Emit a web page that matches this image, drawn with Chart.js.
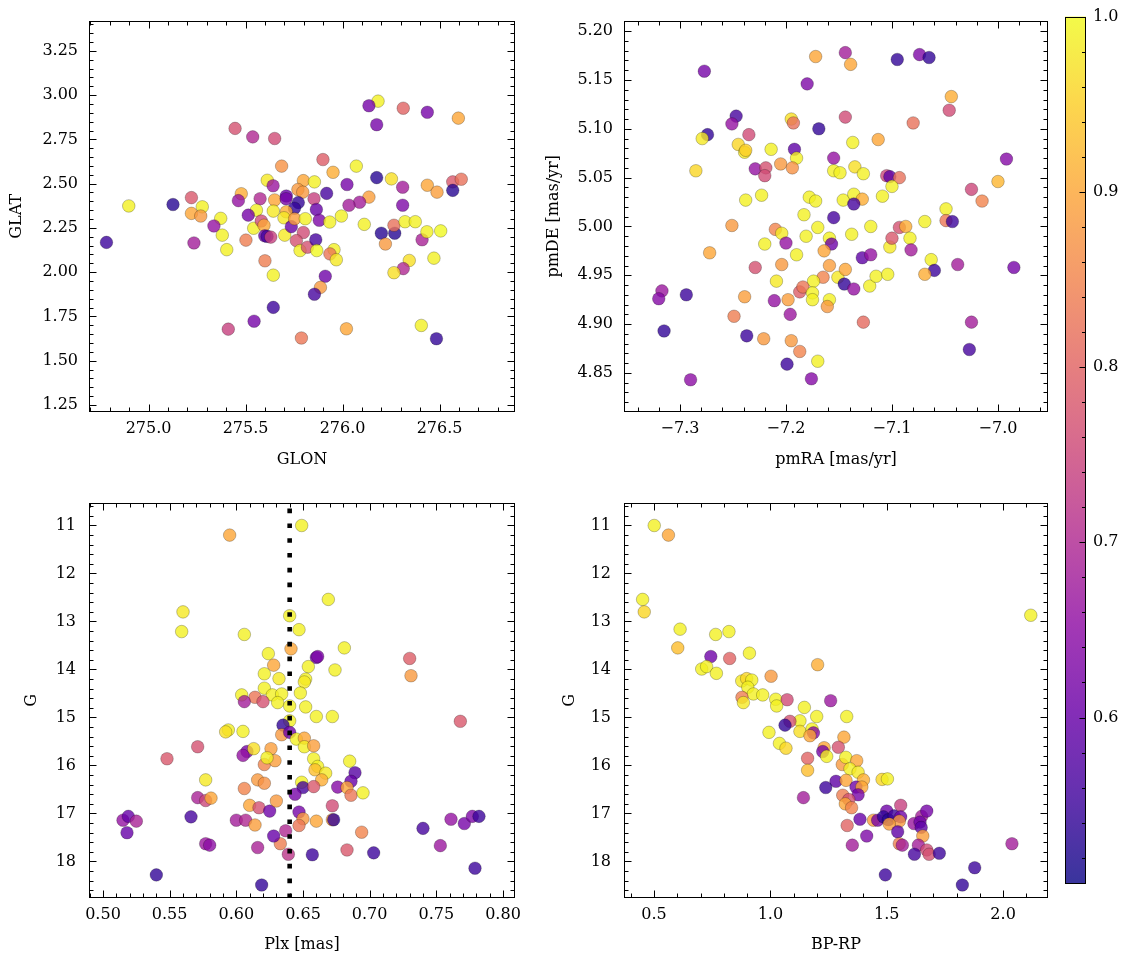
<!DOCTYPE html>
<html><head><meta charset="utf-8">
<script src="https://cdn.jsdelivr.net/npm/chart.js@4.4.1/dist/chart.umd.min.js"></script>
<style>
html,body{margin:0;padding:0;background:#fff;}
#wrap{position:relative;width:1133px;height:965px;overflow:hidden;background:#fff;}
.box{position:absolute;}
canvas{display:block;}
</style></head><body>
<div id="wrap">
<div class="box" style="left:0;top:0"><canvas id="c1" width="530" height="480"></canvas></div>
<div class="box" style="left:530px;top:0"><canvas id="c2" width="535" height="480"></canvas></div>
<div class="box" style="left:0;top:480px"><canvas id="c3" width="530" height="485"></canvas></div>
<div class="box" style="left:530px;top:480px"><canvas id="c4" width="535" height="485"></canvas></div>
<div class="box" style="left:1055px;top:0"><canvas id="c5" width="78" height="965"></canvas></div>
</div>
<script>
// ---------------- data ----------------
const CMIN = 0.505, CMAX = 1.0;
const colorbarTicks = [0.6, 0.7, 0.8, 0.9, 1.0];

// Panel A: GLON vs GLAT
const glon = [276.183,276.136,276.313,276.437,276.176,276.597,275.446,275.537,275.650,275.686,275.899,275.951,276.071,276.176,276.252,276.310,276.437,276.487,276.568,276.612,276.568,275.612,275.642,275.798,275.855,275.770,275.795,275.710,275.918,276.023,276.136,276.088,276.033,276.310,275.221,275.126,274.898,275.277,275.221,275.269,275.478,275.463,275.575,275.650,275.772,275.752,275.853,275.865,275.709,275.643,275.556,275.514,275.372,275.994,275.710,
274.783,275.234,275.337,275.380,275.403,275.502,275.542,275.581,275.595,275.599,275.611,275.630,275.600,275.643,275.643,275.544,275.411,275.702,275.698,275.736,275.753,275.798,275.762,275.781,275.819,275.862,275.867,275.880,275.808,275.934,275.956,275.935,275.968,275.911,275.886,275.855,275.788,276.020,276.112,276.200,276.269,276.265,276.221,276.322,276.375,276.410,276.435,276.506,276.471,276.344,276.313,276.265,276.406,276.484];
const glat = [2.966,2.940,2.926,2.903,2.833,2.870,2.812,2.764,2.755,2.599,2.636,2.564,2.599,2.534,2.527,2.480,2.491,2.452,2.510,2.525,2.462,2.519,2.488,2.517,2.510,2.467,2.452,2.430,2.445,2.495,2.424,2.395,2.378,2.378,2.421,2.382,2.374,2.369,2.332,2.317,2.443,2.404,2.415,2.408,2.393,2.361,2.415,2.354,2.415,2.345,2.350,2.322,2.304,2.317,2.341,
2.168,2.165,2.261,2.209,2.127,2.181,2.248,2.289,2.265,2.205,2.202,2.198,2.064,1.983,1.801,1.723,1.678,2.209,2.307,2.257,2.302,2.224,2.178,2.122,2.141,2.183,2.122,2.293,2.302,2.283,2.127,2.103,2.070,1.977,1.914,1.875,1.628,1.680,2.270,2.220,2.220,2.265,2.159,2.285,2.285,2.183,2.228,2.233,2.079,2.066,2.020,1.997,1.699,1.624];
const probA = [.99,.62,.80,.62,.62,.90,.77,.70,.76,.87,.79,.91,.99,.53,.97,.68,.90,.89,.78,.82,.53,.98,.67,.90,.99,.88,.88,.60,.56,.62,.89,.68,.68,.63,.78,.53,.99,.99,.90,.88,.91,.66,.70,.90,.54,.54,.74,.60,.62,.98,.99,.62,.99,.99,.91,
.55,.68,.66,.99,.99,.84,.99,.76,.90,.60,.56,.74,.84,.99,.55,.62,.74,.98,.98,.60,.89,.76,.77,.99,.77,.56,1.0,.63,.99,.99,.99,.83,.98,.61,.88,.56,.83,.90,.99,.53,.53,.82,.88,.99,.99,.69,.99,1.0,.99,.97,.70,.97,.99,.54];
const glonTicks = [275.0, 275.5, 276.0, 276.5];
const glatTicks = [1.25, 1.50, 1.75, 2.00, 2.25, 2.50, 2.75, 3.00, 3.25];

// Panel B: pmRA vs pmDE
const pmra = [-7.277,-7.172,-7.144,-7.139,-7.095,-7.074,-7.065,-7.180,-7.044,-7.046,-7.080,-7.247,-7.251,-7.274,-7.279,-7.235,-7.195,-7.193,-7.169,-7.144,-7.245,-7.239,-7.238,-7.214,-7.192,-7.190,-7.137,-7.113,-7.285,-7.229,-7.219,-7.220,-7.205,-7.194,-7.155,-7.155,-7.149,-7.135,-7.127,-7.105,-7.102,-7.093,-6.992,-7.000,-7.025,-7.015,-7.100,-7.109,-7.238,-7.223,-7.178,-7.172,-7.146,-7.136,-7.128,-7.136,-7.049,
-7.183,-7.155,-7.251,-7.210,-7.204,-7.220,-7.200,-7.181,-7.170,-7.159,-7.157,-7.164,-7.190,-7.138,-7.120,-7.272,-7.229,-7.204,-7.159,-7.165,-7.174,-7.151,-7.144,-7.145,-7.136,-7.128,-7.120,-7.121,-7.115,-7.104,-7.102,-7.100,-7.093,-7.087,-7.083,-7.082,-7.069,-7.049,-7.043,-7.063,-7.060,-7.069,-7.038,-6.985,-7.317,-7.320,-7.294,-7.315,-7.290,-7.239,-7.249,-7.237,-7.221,-7.211,-7.198,-7.196,-7.195,-7.187,-7.199,-7.176,-7.170,-7.187,-7.184,-7.175,-7.175,-7.159,-7.161,-7.127,-7.025,-7.027,-7.209];
const pmde = [5.159,5.174,5.178,5.166,5.171,5.176,5.173,5.146,5.133,5.119,5.106,5.113,5.105,5.094,5.090,5.094,5.110,5.106,5.100,5.112,5.084,5.076,5.078,5.079,5.079,5.070,5.086,5.089,5.057,5.059,5.060,5.052,5.064,5.060,5.070,5.057,5.055,5.061,5.054,5.052,5.051,5.050,5.069,5.046,5.038,5.026,5.041,5.031,5.027,5.032,5.030,5.026,5.027,5.033,5.028,5.023,5.018,
5.012,5.009,5.001,4.997,4.993,4.982,4.983,4.990,4.999,4.988,4.982,4.975,4.971,4.992,5.000,4.973,4.958,4.961,4.960,4.948,4.944,4.948,4.956,4.941,4.936,4.968,4.971,4.939,4.949,4.951,4.979,4.988,4.999,5.000,4.988,4.976,5.005,5.006,5.005,4.966,4.955,4.951,4.961,4.958,4.934,4.926,4.930,4.893,4.843,4.928,4.908,4.888,4.885,4.924,4.925,4.910,4.883,4.872,4.859,4.844,4.862,4.933,4.938,4.932,4.925,4.925,4.918,4.902,4.902,4.874,4.944];
const probB = [.62,.90,.68,.90,.54,.63,.54,.63,.91,.76,.82,.56,.66,.54,.98,.76,.97,.82,.54,.76,.96,.98,.95,.99,.59,.99,.99,.90,.96,.66,.77,.76,.88,.87,.66,.99,.99,.97,.99,.75,.59,.82,.64,.92,.75,.85,.99,.99,.99,.99,.99,.99,.99,.99,.91,.56,.99,
.99,.56,.88,.85,.98,.99,.66,.99,.99,.99,.61,.90,.99,.99,.99,.90,.77,.88,.89,.85,.99,.98,.90,.54,.66,.59,.66,.99,.99,.99,.98,.78,.77,.91,.99,.68,.99,.83,.55,.99,.55,.91,.68,.62,.67,.64,.55,.54,.65,.89,.84,.55,.88,.66,.89,.67,.88,.85,.55,.64,.99,.79,.83,.99,.99,.99,.88,.81,.68,.56,.98];
const pmraTicks = [-7.3, -7.2, -7.1, -7.0];
const pmdeTicks = [4.85, 4.90, 4.95, 5.00, 5.05, 5.10, 5.15, 5.20];

// Panel C: Plx vs G
const plx = [0.649,0.595,0.669,0.560,0.559,0.606,0.640,0.647,0.641,0.681,0.660,0.661,0.730,0.731,0.624,0.628,0.621,0.632,0.654,0.652,0.651,0.674,0.621,0.648,0.604,0.614,0.627,0.634,
0.606,0.620,0.631,0.640,0.652,0.660,0.672,0.640,0.635,0.594,0.592,0.605,0.634,0.640,0.645,0.651,0.651,0.658,0.571,0.548,0.608,0.605,0.613,0.626,0.621,0.629,0.623,0.658,0.661,0.659,0.667,0.685,0.689,0.686,0.664,0.649,0.650,0.658,0.676,0.683,0.686,0.695,0.577,0.571,0.577,0.581,0.606,0.616,0.621,0.610,0.617,0.625,0.630,0.644,0.647,0.650,0.647,0.660,0.672,0.672,0.673,0.694,0.683,0.703,0.657,0.639,0.637,0.633,0.628,0.616,0.619,0.600,0.607,0.614,0.566,0.577,0.580,0.540,0.515,0.519,0.525,0.518,0.768,0.740,0.761,0.771,0.777,0.782,0.753,0.779];
const gmagC = [11.00,11.20,12.54,12.80,13.21,13.27,12.88,13.17,13.57,13.55,13.75,13.73,13.77,14.13,13.67,13.91,14.09,14.19,13.94,14.20,14.26,14.01,14.39,14.49,14.53,14.58,14.53,14.51,
14.67,14.67,14.69,14.76,14.78,14.98,14.98,15.07,15.16,15.26,15.30,15.29,15.36,15.31,15.45,15.43,15.61,15.59,15.61,15.86,15.71,15.79,15.65,15.65,15.98,15.90,15.84,15.86,16.02,16.09,16.16,15.91,16.15,16.33,16.30,16.35,16.46,16.44,16.45,16.46,16.62,16.57,16.30,16.67,16.73,16.68,16.48,16.30,16.37,16.83,16.88,16.95,16.74,16.60,16.97,17.11,17.25,17.16,16.84,17.13,17.13,17.39,17.76,17.82,17.86,17.85,17.36,17.63,17.47,17.71,18.49,17.14,17.14,17.24,17.07,17.63,17.66,18.28,17.14,17.06,17.16,17.40,15.08,17.31,17.12,17.21,17.06,17.06,17.67,18.14];
const probC = [.99,.90,.99,.98,.99,.99,.99,.99,.90,.99,.61,.63,.79,.88,.99,.90,.99,.98,.99,.99,.98,.99,.99,.99,.99,.83,.99,.99,
.68,.77,.99,.99,.99,.99,.99,.99,.54,.99,.97,.99,.88,.61,.99,.90,.99,.89,.77,.78,.62,.66,.97,.89,.85,.89,.99,.99,.99,.93,.98,.99,.58,.60,.91,.99,.56,.78,.64,.90,.83,.99,.98,.69,.75,.90,.85,.88,.87,.90,.77,.61,.88,.62,.62,.88,.83,.90,.76,.89,.54,.85,.78,.55,.55,.72,.70,.84,.60,.69,.54,.68,.70,.89,.56,.67,.65,.54,.66,.60,.69,.60,.78,.56,.66,.62,.63,.55,.67,.55];
const plxTicks = [0.50, 0.55, 0.60, 0.65, 0.70, 0.75, 0.80];
const plxRef = 0.64;
const gTicks = [11, 12, 13, 14, 15, 16, 17, 18];

// Panel D: BP-RP vs G
const bprp = [0.501,0.562,0.451,0.458,2.119,0.612,0.602,0.765,0.822,0.744,0.825,0.910,0.705,0.726,0.768,1.203,1.003,0.877,0.898,0.920,0.903,0.927,0.967,1.023,0.878,1.072,1.259,1.027,0.884,1.146,1.199,1.328,1.127,1.084,1.063,0.994,1.127,1.179,1.185,1.170,1.316,1.039,1.067,1.231,1.225,1.242,1.292,1.160,1.160,1.309,1.324,1.371,1.342,1.377,1.480,1.503,1.282,1.238,1.325,1.400,1.368,1.393,1.377,1.311,1.337,1.322,1.349,1.142,1.385,1.330,1.443,1.461,1.500,1.486,1.507,1.532,1.560,1.560,1.554,1.511,1.547,1.554,1.567,1.414,1.352,1.617,1.650,1.672,1.643,1.648,1.655,1.636,1.619,1.672,1.682,1.726,2.038,1.494,1.878,1.825];
const gmagD = [11.00,11.20,12.54,12.80,12.87,13.16,13.55,13.27,13.21,13.73,13.77,13.66,13.99,13.94,14.08,13.90,14.14,14.24,14.19,14.22,14.37,14.51,14.53,14.62,14.58,14.63,14.65,14.76,14.69,14.79,14.98,14.98,15.07,15.08,15.16,15.31,15.29,15.24,15.32,15.38,15.41,15.54,15.64,15.63,15.71,15.81,15.62,15.85,16.10,15.98,15.83,15.90,16.07,16.14,16.29,16.28,16.33,16.46,16.31,16.30,16.45,16.45,16.61,16.62,16.71,16.80,16.88,16.67,17.12,17.25,17.14,17.14,16.95,17.07,17.13,17.05,16.83,17.07,17.16,17.22,17.38,17.63,17.66,17.47,17.66,17.21,17.06,16.95,17.18,17.29,17.47,17.66,17.85,17.76,17.85,17.83,17.63,18.28,18.13,18.49];
const probD = [.99,.90,.99,.96,.99,.99,.93,.99,.99,.61,.80,.99,.99,.99,.99,.91,.88,.98,.96,.99,.99,.99,.99,.99,.84,.76,.67,.99,.98,.99,.99,.99,.99,.77,.54,.99,.97,.99,.64,.90,.90,.99,.96,.90,.62,.99,.77,.80,.93,.88,.99,.90,.99,.98,.96,.99,.59,.55,.90,.91,.61,.90,.62,.84,.77,.90,.85,.68,.60,.80,.89,.62,.61,.54,.53,.55,.74,.61,.88,.89,.59,.84,.68,.63,.68,.67,.68,.62,.61,.59,.89,.68,.56,.76,.77,.55,.68,.55,.55,.54];
const bprpTicks = [0.5, 1.0, 1.5, 2.0];

// ---------------- colormap ----------------
const PLASMA = [[13,8,135],[65,4,157],[106,0,168],[143,13,164],[177,42,144],[204,71,120],[225,100,98],[242,132,75],[252,166,54],[252,206,37],[240,249,33]];
function plasmaRGBA(t, a){
  t = Math.max(0, Math.min(1, t));
  const s = t*10, i = Math.min(9, Math.floor(s)), f = s - i;
  const c0 = PLASMA[i], c1 = PLASMA[i+1];
  const c = c0.map((v,k)=>Math.round(v + (c1[k]-v)*f));
  return `rgba(${c[0]},${c[1]},${c[2]},${a})`;
}
const colorOf = v => plasmaRGBA((v - CMIN)/(CMAX - CMIN), 0.8);

// ---------------- helpers ----------------
const FONT = 'DejaVu Serif';
const FS = 16;
Chart.defaults.font.family = FONT;
Chart.defaults.font.size = FS;
Chart.defaults.color = '#000';

function fmt(v, d){ const s = Math.abs(v).toFixed(d); return (v < -1e-9 ? '\u2212' : '') + s; }

function linAxis(o){
  return {
    type: 'linear', position: o.pos, min: o.min, max: o.max, reverse: !!o.reverse,
    grid: {display: false, drawTicks: false}, border: {display: false},
    ticks: {padding: o.pad, autoSkip: false, maxRotation: 0, minRotation: 0,
            callback: (v) => fmt(v, o.dec), font: {family: FONT, size: FS}, color: '#000'},
    afterBuildTicks: (s) => { s.ticks = o.ticks.map(v => ({value: v})); },
    afterFit: (s) => { if (o.pos === 'bottom') s.height = o.size; else s.width = o.size; },
    title: o.title ? {display: true, text: o.title, font: {family: FONT, size: FS}, color: '#000',
      padding: o.pos === 'bottom' ? {top: 0, bottom: o.tpad} : {top: o.tpad, bottom: 0}} : {display: false}
  };
}

function minorVals(min, max, step, major){
  const out = [];
  const k0 = Math.ceil(Math.min(min,max)/step - 1e-6), k1 = Math.floor(Math.max(min,max)/step + 1e-6);
  for (let k = k0; k <= k1; k++){
    const v = k*step;
    if (!major.some(m => Math.abs(m - v) < step*1e-3)) out.push(v);
  }
  return out;
}

const framePlugin = {
  id: 'frame',
  afterDatasetsDraw(chart, args, o){
    if (!o || !o.enabled) return;
    const ctx = chart.ctx, a = chart.chartArea;
    const L = Math.round(a.left)+0.5, R = Math.round(a.right)-0.5, T = Math.round(a.top)+0.5, B = Math.round(a.bottom)-0.5;
    ctx.save();
    ctx.strokeStyle = '#000'; ctx.lineWidth = 1;
    ctx.beginPath();
    const MAJ = o.majLen || 7, MIN = o.minLen || 4;
    if (o.x){
      const sc = chart.scales.x;
      const draw = (vals, len) => vals.forEach(v => {
        const p = Math.round(sc.getPixelForValue(v)) + 0.5;
        if (p < L - 0.1 || p > R + 0.1) return;
        ctx.moveTo(p, B); ctx.lineTo(p, B - len);
        ctx.moveTo(p, T); ctx.lineTo(p, T + len);
      });
      draw(o.x.major, MAJ);
      draw(minorVals(sc.min, sc.max, o.x.minor, o.x.major), MIN);
    }
    if (o.y){
      const sc = chart.scales.y;
      const draw = (vals, len) => vals.forEach(v => {
        const p = Math.round(sc.getPixelForValue(v)) + 0.5;
        if (p < T - 0.1 || p > B + 0.1) return;
        if (o.sides !== 'right'){ ctx.moveTo(L, p); ctx.lineTo(L + len, p); }
        ctx.moveTo(R, p); ctx.lineTo(R - len, p);
      });
      draw(o.y.major, MAJ);
      draw(minorVals(sc.min, sc.max, o.y.minor, o.y.major), MIN);
    }
    ctx.stroke();
    ctx.strokeRect(L, T, R - L, B - T);
    ctx.restore();
  }
};
Chart.register(framePlugin);

function scatterSet(xs, ys, ps){
  return {
    type: 'scatter',
    data: xs.map((x, i) => ({x: x, y: ys[i]})),
    backgroundColor: ps.map(colorOf),
    borderColor: 'rgba(0,0,0,0.4)', borderWidth: 0.6,
    pointRadius: 6.3, pointHoverRadius: 6.3, pointStyle: 'circle',
    order: 1, clip: 0
  };
}

function baseOptions(pad, scales, frame){
  return {
    responsive: false, animation: false, devicePixelRatio: 1, events: [],
    layout: {padding: pad},
    plugins: {legend: {display: false}, tooltip: {enabled: false}, frame: Object.assign({enabled: true}, frame)},
    scales: scales
  };
}

// ---------------- Panel A ----------------
new Chart(document.getElementById('c1'), {
  type: 'scatter',
  data: {datasets: [scatterSet(glon, glat, probA)]},
  options: baseOptions({top: 15, right: 15, left: 0, bottom: 0}, {
    x: linAxis({pos: 'bottom', min: 274.693, max: 276.889, ticks: glonTicks, dec: 1, pad: 7, size: 68, title: 'GLON', tpad: 11}),
    y: linAxis({pos: 'left', min: 1.210, max: 3.421, ticks: glatTicks, dec: 2, pad: 11, size: 89, title: 'GLAT', tpad: 7})
  }, {x: {major: glonTicks, minor: 0.1}, y: {major: glatTicks, minor: 0.05}})
});

// ---------------- Panel B ----------------
new Chart(document.getElementById('c2'), {
  type: 'scatter',
  data: {datasets: [scatterSet(pmra, pmde, probB)]},
  options: baseOptions({top: 15, right: 17, left: 0, bottom: 0}, {
    x: linAxis({pos: 'bottom', min: -7.3528, max: -6.9528, ticks: pmraTicks, dec: 1, pad: 7, size: 68, title: 'pmRA [mas/yr]', tpad: 11}),
    y: linAxis({pos: 'left', min: 4.810, max: 5.2108, ticks: pmdeTicks, dec: 2, pad: 11, size: 94, title: 'pmDE [mas/yr]', tpad: 14})
  }, {x: {major: pmraTicks, minor: 0.02}, y: {major: pmdeTicks, minor: 0.01}})
});

// ---------------- Panel C ----------------
const G_MIN = 10.523, G_MAX = 18.761;
new Chart(document.getElementById('c3'), {
  type: 'scatter',
  data: {datasets: [
    {type: 'scatter', showLine: true, data: [{x: plxRef, y: G_MAX}, {x: plxRef, y: G_MIN}],
     borderColor: '#000', backgroundColor: '#000', borderWidth: 4.6, borderDash: [4.6, 10.2], borderCapStyle: 'butt',
     pointRadius: 0, pointHoverRadius: 0, order: 0, clip: 0},
    scatterSet(plx, gmagC, probC)
  ]},
  options: baseOptions({top: 21, right: 15, left: 0, bottom: 0}, {
    x: linAxis({pos: 'bottom', min: 0.4895, max: 0.809, ticks: plxTicks, dec: 2, pad: 7, size: 67, title: 'Plx [mas]', tpad: 11}),
    y: linAxis({pos: 'left', min: G_MIN, max: G_MAX, reverse: true, ticks: gTicks, dec: 0, pad: 13, size: 89, title: 'G', tpad: 22})
  }, {x: {major: plxTicks, minor: 0.01}, y: {major: gTicks, minor: 0.2}})
});

// ---------------- Panel D ----------------
new Chart(document.getElementById('c4'), {
  type: 'scatter',
  data: {datasets: [scatterSet(bprp, gmagD, probD)]},
  options: baseOptions({top: 21, right: 17, left: 0, bottom: 0}, {
    x: linAxis({pos: 'bottom', min: 0.371, max: 2.193, ticks: bprpTicks, dec: 1, pad: 7, size: 67, title: 'BP-RP', tpad: 11}),
    y: linAxis({pos: 'left', min: G_MIN, max: G_MAX, reverse: true, ticks: gTicks, dec: 0, pad: 13, size: 94, title: 'G', tpad: 30})
  }, {x: {major: bprpTicks, minor: 0.1}, y: {major: gTicks, minor: 0.2}})
});

// ---------------- Colorbar ----------------
function cbFill(c){
  const ch = c.chart, a = ch.chartArea;
  if (!a) return 'rgba(0,0,0,0)';
  const y = ch.scales.y;
  const g = ch.ctx.createLinearGradient(0, y.getPixelForValue(CMIN), 0, y.getPixelForValue(CMAX));
  for (let i = 0; i <= 20; i++) g.addColorStop(i/20, plasmaRGBA(i/20, 0.82));
  return g;
}
new Chart(document.getElementById('c5'), {
  type: 'bar',
  data: {labels: ['p'], datasets: [{data: [[CMIN, CMAX]], backgroundColor: cbFill, borderWidth: 0,
    categoryPercentage: 1, barPercentage: 1, borderSkipped: false}]},
  options: baseOptions({top: 15, right: 0, left: 10, bottom: 81}, {
    x: {display: false},
    y: linAxis({pos: 'right', min: CMIN, max: CMAX, ticks: colorbarTicks, dec: 1, pad: 7, size: 47})
  }, {y: {major: colorbarTicks, minor: 0.02}, sides: 'right', majLen: 6, minLen: 3.5})
});
</script>
</body></html>
